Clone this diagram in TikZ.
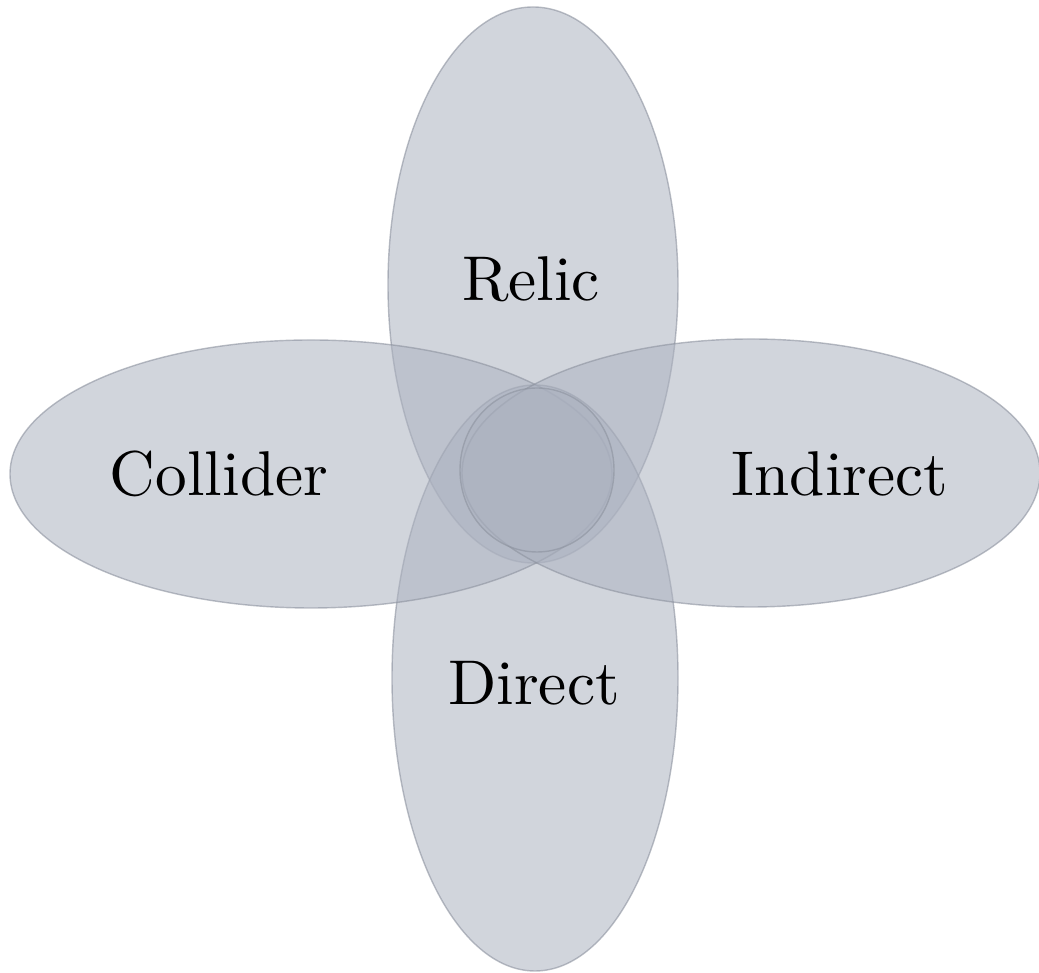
\documentclass[tikz,border=0pt]{standalone}
\usepackage{tikz}
\definecolor{regionfill}{RGB}{172,178,192}
\definecolor{regionline}{RGB}{140,146,158}
\begin{document}
\begin{tikzpicture}[region/.style={fill=regionfill, fill opacity=0.55, draw=regionline, draw opacity=0.6, line width=0.4pt},
    lbl/.style={scale=1.8}]
    \useasboundingbox (0,0) rectangle (10.39,9.73);

    % 楕円
    \filldraw[region] (5.33,6.88) ellipse [x radius=1.45, y radius=2.78];
    \filldraw[region] (5.35,2.95) ellipse [x radius=1.43, y radius=2.93];
    \filldraw[region] (3.11,4.99) ellipse [x radius=3.01, y radius=1.34];
    \filldraw[region] (7.51,5.00) ellipse [x radius=2.89, y radius=1.34];

    % 中央の円
    \filldraw[region] (5.37,5.03) ellipse [x radius=0.77, y radius=0.82];

    % ラベル
    \node[lbl] (relic) at (5.31,6.94) {Relic};
    \node[lbl] (collider) at (2.19,4.99) {Collider};
    \node[lbl] (indirect) at (8.40,4.99) {Indirect};
    \node[lbl] (direct) at (5.34,2.90) {Direct};
\end{tikzpicture}
\end{document}
